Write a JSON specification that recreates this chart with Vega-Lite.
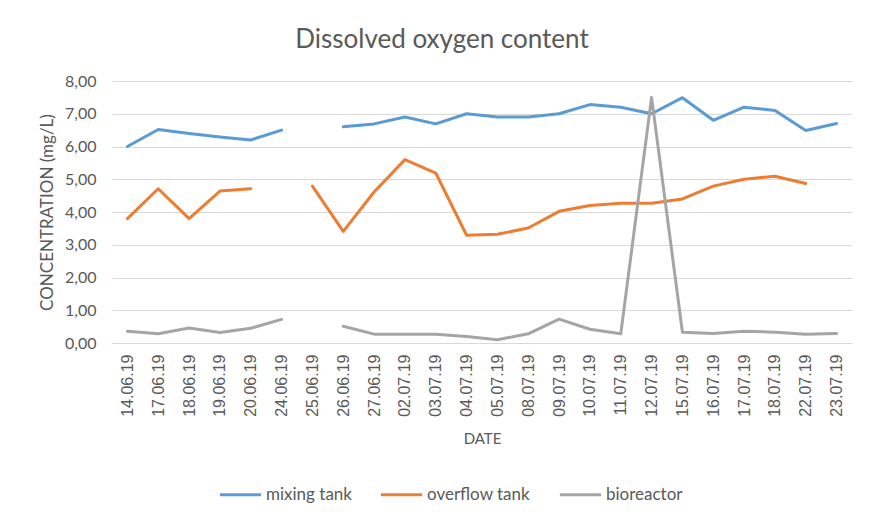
{
  "$schema": "https://vega.github.io/schema/vega-lite/v6.json",
  "width": 740,
  "height": 262,
  "autosize": "none",
  "padding": {"left": 112, "top": 81, "right": 26, "bottom": 179},
  "background": "white",
  "title": {"text": "Dissolved oxygen content", "fontSize": 26, "font": "Lato", "fontWeight": "normal", "color": "#595959", "offset": 20, "anchor": "middle", "dx": -40},
  "data": {
    "values": [
      {"date": "14.06.19", "series": "mixing tank", "value": 6.0},
      {"date": "17.06.19", "series": "mixing tank", "value": 6.52},
      {"date": "18.06.19", "series": "mixing tank", "value": 6.4},
      {"date": "19.06.19", "series": "mixing tank", "value": 6.29},
      {"date": "20.06.19", "series": "mixing tank", "value": 6.2},
      {"date": "24.06.19", "series": "mixing tank", "value": 6.5},
      {"date": "25.06.19", "series": "mixing tank", "value": null},
      {"date": "26.06.19", "series": "mixing tank", "value": 6.6},
      {"date": "27.06.19", "series": "mixing tank", "value": 6.69},
      {"date": "02.07.19", "series": "mixing tank", "value": 6.9},
      {"date": "03.07.19", "series": "mixing tank", "value": 6.69},
      {"date": "04.07.19", "series": "mixing tank", "value": 7.0},
      {"date": "05.07.19", "series": "mixing tank", "value": 6.9},
      {"date": "08.07.19", "series": "mixing tank", "value": 6.9},
      {"date": "09.07.19", "series": "mixing tank", "value": 7.0},
      {"date": "10.07.19", "series": "mixing tank", "value": 7.28},
      {"date": "11.07.19", "series": "mixing tank", "value": 7.2},
      {"date": "12.07.19", "series": "mixing tank", "value": 7.0},
      {"date": "15.07.19", "series": "mixing tank", "value": 7.49},
      {"date": "16.07.19", "series": "mixing tank", "value": 6.8},
      {"date": "17.07.19", "series": "mixing tank", "value": 7.2},
      {"date": "18.07.19", "series": "mixing tank", "value": 7.1},
      {"date": "22.07.19", "series": "mixing tank", "value": 6.49},
      {"date": "23.07.19", "series": "mixing tank", "value": 6.7},
      {"date": "14.06.19", "series": "overflow tank", "value": 3.8},
      {"date": "17.06.19", "series": "overflow tank", "value": 4.71},
      {"date": "18.06.19", "series": "overflow tank", "value": 3.8},
      {"date": "19.06.19", "series": "overflow tank", "value": 4.64},
      {"date": "20.06.19", "series": "overflow tank", "value": 4.71},
      {"date": "24.06.19", "series": "overflow tank", "value": null},
      {"date": "25.06.19", "series": "overflow tank", "value": 4.79},
      {"date": "26.06.19", "series": "overflow tank", "value": 3.41},
      {"date": "27.06.19", "series": "overflow tank", "value": 4.61},
      {"date": "02.07.19", "series": "overflow tank", "value": 5.6},
      {"date": "03.07.19", "series": "overflow tank", "value": 5.19},
      {"date": "04.07.19", "series": "overflow tank", "value": 3.29},
      {"date": "05.07.19", "series": "overflow tank", "value": 3.32},
      {"date": "08.07.19", "series": "overflow tank", "value": 3.51},
      {"date": "09.07.19", "series": "overflow tank", "value": 4.02},
      {"date": "10.07.19", "series": "overflow tank", "value": 4.2},
      {"date": "11.07.19", "series": "overflow tank", "value": 4.27},
      {"date": "12.07.19", "series": "overflow tank", "value": 4.27},
      {"date": "15.07.19", "series": "overflow tank", "value": 4.4},
      {"date": "16.07.19", "series": "overflow tank", "value": 4.79},
      {"date": "17.07.19", "series": "overflow tank", "value": 5.0},
      {"date": "18.07.19", "series": "overflow tank", "value": 5.09},
      {"date": "22.07.19", "series": "overflow tank", "value": 4.87},
      {"date": "23.07.19", "series": "overflow tank", "value": null},
      {"date": "14.06.19", "series": "bioreactor", "value": 0.36},
      {"date": "17.06.19", "series": "bioreactor", "value": 0.28},
      {"date": "18.06.19", "series": "bioreactor", "value": 0.46},
      {"date": "19.06.19", "series": "bioreactor", "value": 0.32},
      {"date": "20.06.19", "series": "bioreactor", "value": 0.45},
      {"date": "24.06.19", "series": "bioreactor", "value": 0.72},
      {"date": "25.06.19", "series": "bioreactor", "value": null},
      {"date": "26.06.19", "series": "bioreactor", "value": 0.51},
      {"date": "27.06.19", "series": "bioreactor", "value": 0.27},
      {"date": "02.07.19", "series": "bioreactor", "value": 0.27},
      {"date": "03.07.19", "series": "bioreactor", "value": 0.27},
      {"date": "04.07.19", "series": "bioreactor", "value": 0.2},
      {"date": "05.07.19", "series": "bioreactor", "value": 0.1},
      {"date": "08.07.19", "series": "bioreactor", "value": 0.28},
      {"date": "09.07.19", "series": "bioreactor", "value": 0.73},
      {"date": "10.07.19", "series": "bioreactor", "value": 0.42},
      {"date": "11.07.19", "series": "bioreactor", "value": 0.28},
      {"date": "12.07.19", "series": "bioreactor", "value": 7.5},
      {"date": "15.07.19", "series": "bioreactor", "value": 0.33},
      {"date": "16.07.19", "series": "bioreactor", "value": 0.29},
      {"date": "17.07.19", "series": "bioreactor", "value": 0.36},
      {"date": "18.07.19", "series": "bioreactor", "value": 0.33},
      {"date": "22.07.19", "series": "bioreactor", "value": 0.27},
      {"date": "23.07.19", "series": "bioreactor", "value": 0.29}
    ]
  },
  "mark": {"type": "line", "strokeWidth": 3, "invalid": "break-paths-show-domains", "strokeCap": "round", "strokeJoin": "round"},
  "encoding": {
    "x": {
      "field": "date", "type": "ordinal",
      "sort": ["14.06.19","17.06.19","18.06.19","19.06.19","20.06.19","24.06.19","25.06.19","26.06.19","27.06.19","02.07.19","03.07.19","04.07.19","05.07.19","08.07.19","09.07.19","10.07.19","11.07.19","12.07.19","15.07.19","16.07.19","17.07.19","18.07.19","22.07.19","23.07.19"],
      "scale": {"type": "point", "padding": 0.5},
      "title": "DATE",
      "axis": {
        "labelAngle": -90, "labelAlign": "right", "labelBaseline": "middle",
        "labelFont": "Liberation Sans", "labelFontSize": 16, "labelColor": "#595959", "labelPadding": 11,
        "titleFont": "Lato", "titleFontSize": 15, "titleFontWeight": "normal", "titleColor": "#595959", "titlePadding": 15,
        "domainColor": "#D9D9D9", "domainWidth": 1, "ticks": false, "grid": false
      }
    },
    "y": {
      "field": "value", "type": "quantitative",
      "scale": {"domain": [0, 8], "nice": false},
      "title": "CONCENTRATION (mg/L)",
      "axis": {
        "values": [0,1,2,3,4,5,6,7,8],
        "labelExpr": "replace(format(datum.value, '.2f'), '.', ',')",
        "labelFont": "Lato", "labelFontSize": 16, "labelColor": "#595959", "labelPadding": 16,
        "titleFont": "Lato", "titleFontSize": 17, "titleFontWeight": "normal", "titleColor": "#595959", "titlePadding": 8,
        "domain": false, "ticks": false, "gridColor": "#D9D9D9", "gridWidth": 1
      }
    },
    "color": {
      "field": "series", "type": "nominal",
      "scale": {"domain": ["mixing tank", "overflow tank", "bioreactor"], "range": ["#5B9BD5", "#ED7D31", "#A5A5A5"]},
      "legend": {
        "title": null, "orient": "none", "direction": "horizontal", "legendX": 106, "legendY": 391,
        "symbolType": "stroke", "symbolStrokeWidth": 3, "symbolSize": 1700,
        "labelFont": "Lato", "labelFontSize": 17, "labelColor": "#595959", "labelOffset": 3, "columnPadding": 22
      }
    }
  },
  "config": {"view": {"stroke": null}}
}
